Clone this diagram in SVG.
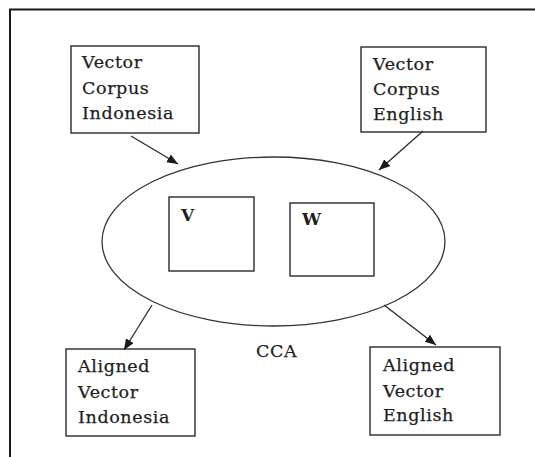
<svg xmlns="http://www.w3.org/2000/svg" width="535" height="457" viewBox="0 0 535 457">
  <style>
    .box { fill: #fff; stroke: #2a2a2a; stroke-width: 1.4; }
    .ell { fill: #fff; stroke: #333; stroke-width: 1.3; }
    .lbl { font-family: "DejaVu Serif", "Liberation Serif", serif; font-size: 17.5px; letter-spacing: 0.6px; fill: #1e1e1e; stroke: #1e1e1e; stroke-width: 0.25; }
    .vw { font-family: "DejaVu Serif", "Liberation Serif", serif; font-size: 17px; font-weight: bold; fill: #1e1e1e; }
    .edge { stroke: #2a2a2a; stroke-width: 1.3; fill: none; marker-end: url(#head); }
    .frame { stroke: #1a1a1a; stroke-width: 2; fill: none; }
  </style>
  <defs>
    <marker id="head" markerUnits="userSpaceOnUse" markerWidth="12" markerHeight="10" refX="11" refY="4.5" orient="auto">
      <path d="M0,0 L11,4.5 L0,9 Z" fill="#1a1a1a"/>
    </marker>
  </defs>
  <rect width="535" height="457" fill="#fff"/>

  <!-- outer frame (top and left edges) -->
  <path class="frame" d="M10,457 L10,9.5 L535,9.5"/>

  <!-- CCA ellipse with the two projection matrices -->
  <g id="cca">
    <ellipse class="ell" cx="273.5" cy="241.5" rx="171.5" ry="84.5"/>
    <text class="lbl" x="256" y="357">CCA</text>
  </g>
  <g id="matrix-v">
    <rect class="box" x="169" y="197" width="85" height="74"/>
    <text class="vw" x="181" y="221">V</text>
  </g>
  <g id="matrix-w">
    <rect class="box" x="290" y="203" width="84" height="73"/>
    <text class="vw" x="302" y="225">W</text>
  </g>

  <!-- input corpora -->
  <g id="vec-indonesia">
    <rect class="box" x="71" y="46" width="128" height="87"/>
    <text class="lbl" x="82" y="68">Vector</text>
    <text class="lbl" x="82" y="94">Corpus</text>
    <text class="lbl" x="82" y="119">Indonesia</text>
  </g>
  <g id="vec-english">
    <rect class="box" x="361" y="47" width="125" height="85"/>
    <text class="lbl" x="373" y="70">Vector</text>
    <text class="lbl" x="373" y="95">Corpus</text>
    <text class="lbl" x="373" y="120">English</text>
  </g>

  <!-- aligned outputs -->
  <g id="aligned-indonesia">
    <rect class="box" x="66" y="349" width="129" height="87"/>
    <text class="lbl" x="78" y="372">Aligned</text>
    <text class="lbl" x="78" y="398">Vector</text>
    <text class="lbl" x="78" y="423">Indonesia</text>
  </g>
  <g id="aligned-english">
    <rect class="box" x="370" y="347" width="130" height="88"/>
    <text class="lbl" x="383" y="371">Aligned</text>
    <text class="lbl" x="383" y="397">Vector</text>
    <text class="lbl" x="383" y="421">English</text>
  </g>

  <!-- connectors -->
  <g id="connectors">
    <line class="edge" x1="131" y1="136" x2="178" y2="164"/>
    <line class="edge" x1="423" y1="131" x2="379" y2="170"/>
    <line class="edge" x1="152" y1="305" x2="124" y2="350"/>
    <line class="edge" x1="384" y1="305" x2="436" y2="345"/>
  </g>
</svg>
